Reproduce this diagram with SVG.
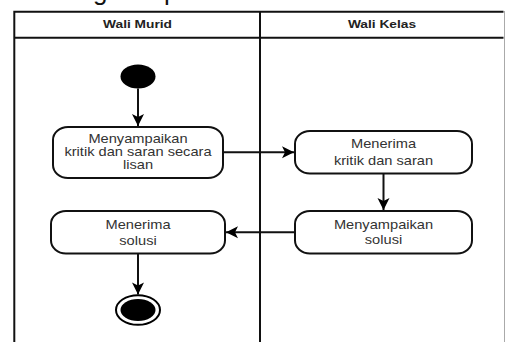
<svg xmlns="http://www.w3.org/2000/svg" width="505" height="342" viewBox="0 0 505 342">
  <defs>
    <marker id="arrow" markerUnits="userSpaceOnUse" markerWidth="16" markerHeight="16" viewBox="-14 -8 16 16" refX="0" refY="0" orient="auto">
      <path d="M0,0 L-12,-6 L-9,0 L-12,6 Z" fill="#000"/>
    </marker>
  </defs>
  <style>
    .lane { fill: none; stroke: #111; stroke-width: 2; }
    .act { fill: #fff; stroke: #111; stroke-width: 2; }
    .edge { fill: none; stroke: #111; stroke-width: 2; marker-end: url(#arrow); }
    .hdr { font-family: "Liberation Sans", Arial, sans-serif; font-size: 11px; font-weight: bold; fill: #222; text-anchor: middle; }
    .lbl { font-family: "Liberation Sans", Arial, sans-serif; font-size: 12px; fill: #333; text-anchor: middle; }
    .big { font-family: "Liberation Sans", Arial, sans-serif; font-size: 26px; fill: #111; }
  </style>

  <rect width="505" height="342" fill="#fff"/>

  <!-- heading text above the pool, mostly cut off at the top edge -->
  <text class="big" x="93" y="0">g</text>
  <text class="big" x="164" y="0">p</text>

  <!-- swimlane pool -->
  <g id="pool">
    <path class="lane" d="M14.3,342 V11.7 H503.5"/>
    <line class="lane" x1="14.3" y1="37.7" x2="503.5" y2="37.7"/>
    <line class="lane" x1="260" y1="11.7" x2="260" y2="342"/>
    <line x1="504.5" y1="11" x2="504.5" y2="342" stroke="#aaa" stroke-width="1"/>
    <g transform="translate(137.5,0) scale(1.25,1)">
      <text class="hdr" x="0" y="28.5">Wali Murid</text>
    </g>
    <g transform="translate(382,0) scale(1.25,1)">
      <text class="hdr" x="0" y="28.5">Wali Kelas</text>
    </g>
  </g>

  <!-- start node -->
  <g id="start">
    <ellipse cx="138" cy="76.5" rx="17.5" ry="12" fill="#000"/>
  </g>

  <!-- activity: menyampaikan kritik dan saran -->
  <g id="act-menyampaikan-kritik">
    <rect class="act" x="53" y="127" width="170" height="51" rx="15" ry="13"/>
    <g transform="translate(138,0) scale(1.22,1)">
      <text class="lbl" x="0" y="143.5">Menyampaikan</text>
      <text class="lbl" x="0" y="156.5">kritik dan saran secara</text>
      <text class="lbl" x="0" y="169.5">lisan</text>
    </g>
  </g>

  <!-- activity: menerima kritik dan saran -->
  <g id="act-menerima-kritik">
    <rect class="act" x="295" y="131" width="177" height="42.5" rx="15" ry="13"/>
    <g transform="translate(383.5,0) scale(1.22,1)">
      <text class="lbl" x="0" y="148.5">Menerima</text>
      <text class="lbl" x="0" y="165">kritik dan saran</text>
    </g>
  </g>

  <!-- activity: menyampaikan solusi -->
  <g id="act-menyampaikan-solusi">
    <rect class="act" x="295" y="211" width="177" height="42.5" rx="15" ry="13"/>
    <g transform="translate(383.5,0) scale(1.22,1)">
      <text class="lbl" x="0" y="229">Menyampaikan</text>
      <text class="lbl" x="0" y="244.5">solusi</text>
    </g>
  </g>

  <!-- activity: menerima solusi -->
  <g id="act-menerima-solusi">
    <rect class="act" x="51" y="211" width="174" height="42.5" rx="15" ry="13"/>
    <g transform="translate(138,0) scale(1.22,1)">
      <text class="lbl" x="0" y="229">Menerima</text>
      <text class="lbl" x="0" y="245">solusi</text>
    </g>
  </g>

  <!-- end node -->
  <g id="end">
    <ellipse cx="138" cy="310" rx="22" ry="14.8" fill="#fff" stroke="#000" stroke-width="2"/>
    <ellipse cx="138" cy="310" rx="17.5" ry="11" fill="#000"/>
  </g>

  <!-- control flows -->
  <g id="connectors">
    <line class="edge" x1="138" y1="88.5" x2="138" y2="126"/>
    <line class="edge" x1="223" y1="152.3" x2="294" y2="152.3"/>
    <line class="edge" x1="383.5" y1="173.5" x2="383.5" y2="210"/>
    <line class="edge" x1="295" y1="232.3" x2="226" y2="232.3"/>
    <line class="edge" x1="138" y1="253.5" x2="138" y2="294.5"/>
  </g>
</svg>
